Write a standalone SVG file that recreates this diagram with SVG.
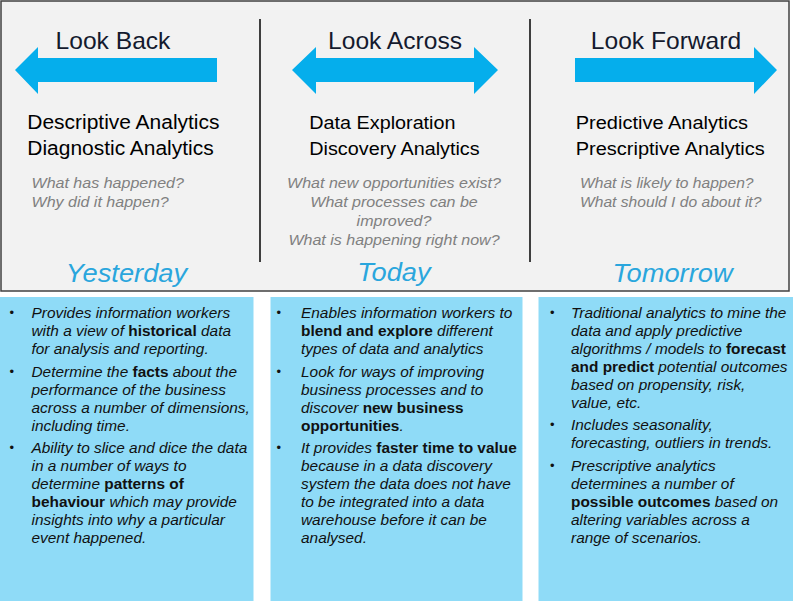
<svg xmlns="http://www.w3.org/2000/svg" width="800" height="601" viewBox="0 0 800 601">
  <style>
    text { font-family: "Liberation Sans", Arial, sans-serif; }
    .look { font-size: 23px; fill: #141a2e; text-anchor: middle; }
    .kind { fill: #000; }
    .ask { font-size: 15px; font-style: italic; fill: #808080; }
    .day { font-size: 25.5px; font-style: italic; fill: #2aa6dd; text-anchor: middle; }
    .note { font-size: 14.4px; font-style: italic; fill: #111; }
    .note tspan.b { font-weight: bold; font-style: normal; }
    .dot { font-size: 13px; fill: #111; }
    .arrow { fill: #05aeec; }
    .panel { fill: #8fdbf7; }
    .divider { stroke: #111; stroke-width: 1.6; }
  </style>

  <rect width="800" height="601" fill="#ffffff"/>

  <!-- shared frame behind the three columns -->
  <g id="frame">
    <rect x="1" y="1" width="788" height="290" fill="#f2f2f2" stroke="#404040" stroke-width="1.5"/>
    <line class="divider" x1="260" y1="19" x2="260" y2="262"/>
    <line class="divider" x1="530" y1="19" x2="530" y2="262"/>
  </g>

  <!-- Yesterday column -->
  <g id="col-yesterday">
    <polygon class="arrow" points="15,70 38,47 38,58 217,58 217,82 38,82 38,94"/>
    <g transform="matrix(1.07 0 0 1 113 0)"><text class="look" x="0" y="49.5">Look Back</text></g>
    <g transform="matrix(1.07 0 0 1 27.3 0)" class="kind" style="font-size:19.6px">
      <text x="0" y="129.5">Descriptive Analytics</text>
      <text x="0" y="155.5">Diagnostic Analytics</text>
    </g>
    <g transform="matrix(1.07 0 0 1 31.5 0)">
      <text class="ask" x="0" y="188.5">What has happened?</text>
      <text class="ask" x="0" y="207.5">Why did it happen?</text>
    </g>
    <g transform="matrix(1.07 0 0 1 126.5 0)"><text class="day" x="0" y="282">Yesterday</text></g>
  </g>

  <!-- Today column -->
  <g id="col-today">
    <polygon class="arrow" points="292,70 316,47 316,58 474,58 474,47 498,70 474,94 474,82 316,82 316,94"/>
    <g transform="matrix(1.07 0 0 1 395 0)"><text class="look" x="0" y="49.5">Look Across</text></g>
    <g transform="matrix(1.07 0 0 1 309.3 0)" class="kind" style="font-size:18.5px">
      <text x="0" y="129.5">Data Exploration</text>
      <text x="0" y="155.5">Discovery Analytics</text>
    </g>
    <g transform="matrix(1.07 0 0 1 394 0)" style="text-anchor:middle">
      <text class="ask" x="0" y="188.5">What new opportunities exist?</text>
      <text class="ask" x="0" y="207.5">What processes can be</text>
      <text class="ask" x="0" y="226.5">improved?</text>
      <text class="ask" x="0" y="245.5">What is happening right now?</text>
    </g>
    <g transform="matrix(1.07 0 0 1 394 0)"><text class="day" x="0" y="281.5">Today</text></g>
  </g>

  <!-- Tomorrow column -->
  <g id="col-tomorrow">
    <polygon class="arrow" points="575,58 754,58 754,47 777,70 754,94 754,82 575,82"/>
    <g transform="matrix(1.07 0 0 1 666 0)"><text class="look" x="0" y="49.5">Look Forward</text></g>
    <g transform="matrix(1.07 0 0 1 575.7 0)" class="kind" style="font-size:18.7px">
      <text x="0" y="129.5">Predictive Analytics</text>
      <text x="0" y="155.5">Prescriptive Analytics</text>
    </g>
    <g transform="matrix(1.07 0 0 1 580 0)">
      <text class="ask" x="0" y="188.5" style="font-size:14.6px">What is likely to happen?</text>
      <text class="ask" x="0" y="207.5" style="font-size:14.6px">What should I do about it?</text>
    </g>
    <g transform="matrix(1.07 0 0 1 672.5 0)"><text class="day" x="0" y="282">Tomorrow</text></g>
  </g>

  <!-- Yesterday notes -->
  <g id="notes-yesterday">
    <rect class="panel" x="0" y="297" width="253.5" height="304"/>
    <text class="dot" x="9.5" y="316.5">•</text>
    <text class="dot" x="9.5" y="375.8">•</text>
    <text class="dot" x="9.5" y="452.2">•</text>
    <g transform="matrix(1.07 0 0 1 31.5 0)" class="note">
      <text x="0" y="317.7">Provides information workers</text>
      <text x="0" y="335.7">with a view of <tspan class="b">historical</tspan> data</text>
      <text x="0" y="353.7">for analysis and reporting.</text>
      <text x="0" y="377">Determine the <tspan class="b">facts</tspan> about the</text>
      <text x="0" y="395">performance of the business</text>
      <text x="0" y="413">across a number of dimensions,</text>
      <text x="0" y="431">including time.</text>
      <text x="0" y="453.3">Ability to slice and dice the data</text>
      <text x="0" y="471.3">in a number of ways to</text>
      <text x="0" y="489.3">determine <tspan class="b">patterns of</tspan></text>
      <text x="0" y="507.3"><tspan class="b">behaviour</tspan> which may provide</text>
      <text x="0" y="525.3">insights into why a particular</text>
      <text x="0" y="543.3">event happened.</text>
    </g>
  </g>

  <!-- Today notes -->
  <g id="notes-today">
    <rect class="panel" x="270.5" y="297" width="252" height="304"/>
    <text class="dot" x="276.5" y="316.5">•</text>
    <text class="dot" x="276.5" y="375.5">•</text>
    <text class="dot" x="276.5" y="452.2">•</text>
    <g transform="matrix(1.07 0 0 1 301 0)" class="note">
      <text x="0" y="317.7">Enables information workers to</text>
      <text x="0" y="335.7"><tspan class="b">blend and explore</tspan> different</text>
      <text x="0" y="353.7">types of data and analytics</text>
      <text x="0" y="376.7">Look for ways of improving</text>
      <text x="0" y="394.7">business processes and to</text>
      <text x="0" y="412.7">discover <tspan class="b">new business</tspan></text>
      <text x="0" y="430.7"><tspan class="b">opportunities</tspan>.</text>
      <text x="0" y="453.3">It provides <tspan class="b">faster time to value</tspan></text>
      <text x="0" y="471.3">because in a data discovery</text>
      <text x="0" y="489.3">system the data does not have</text>
      <text x="0" y="507.3">to be integrated into a data</text>
      <text x="0" y="525.3">warehouse before it can be</text>
      <text x="0" y="543.3">analysed.</text>
    </g>
  </g>

  <!-- Tomorrow notes -->
  <g id="notes-tomorrow">
    <rect class="panel" x="538.5" y="297" width="254.5" height="304"/>
    <text class="dot" x="550" y="316.5">•</text>
    <text class="dot" x="550" y="429.3">•</text>
    <text class="dot" x="550" y="470.3">•</text>
    <g transform="matrix(1.07 0 0 1 571 0)" class="note">
      <text x="0" y="317.7">Traditional analytics to mine the</text>
      <text x="0" y="335.7">data and apply predictive</text>
      <text x="0" y="353.7">algorithms / models to <tspan class="b">forecast</tspan></text>
      <text x="0" y="371.7"><tspan class="b">and predict</tspan> potential outcomes</text>
      <text x="0" y="389.7">based on propensity, risk,</text>
      <text x="0" y="407.7">value, etc.</text>
      <text x="0" y="430.5">Includes seasonality,</text>
      <text x="0" y="448.5">forecasting, outliers in trends.</text>
      <text x="0" y="471.5">Prescriptive analytics</text>
      <text x="0" y="489.5">determines a number of</text>
      <text x="0" y="507.5"><tspan class="b">possible outcomes</tspan> based on</text>
      <text x="0" y="525.5">altering variables across a</text>
      <text x="0" y="543.5">range of scenarios.</text>
    </g>
  </g>
</svg>
